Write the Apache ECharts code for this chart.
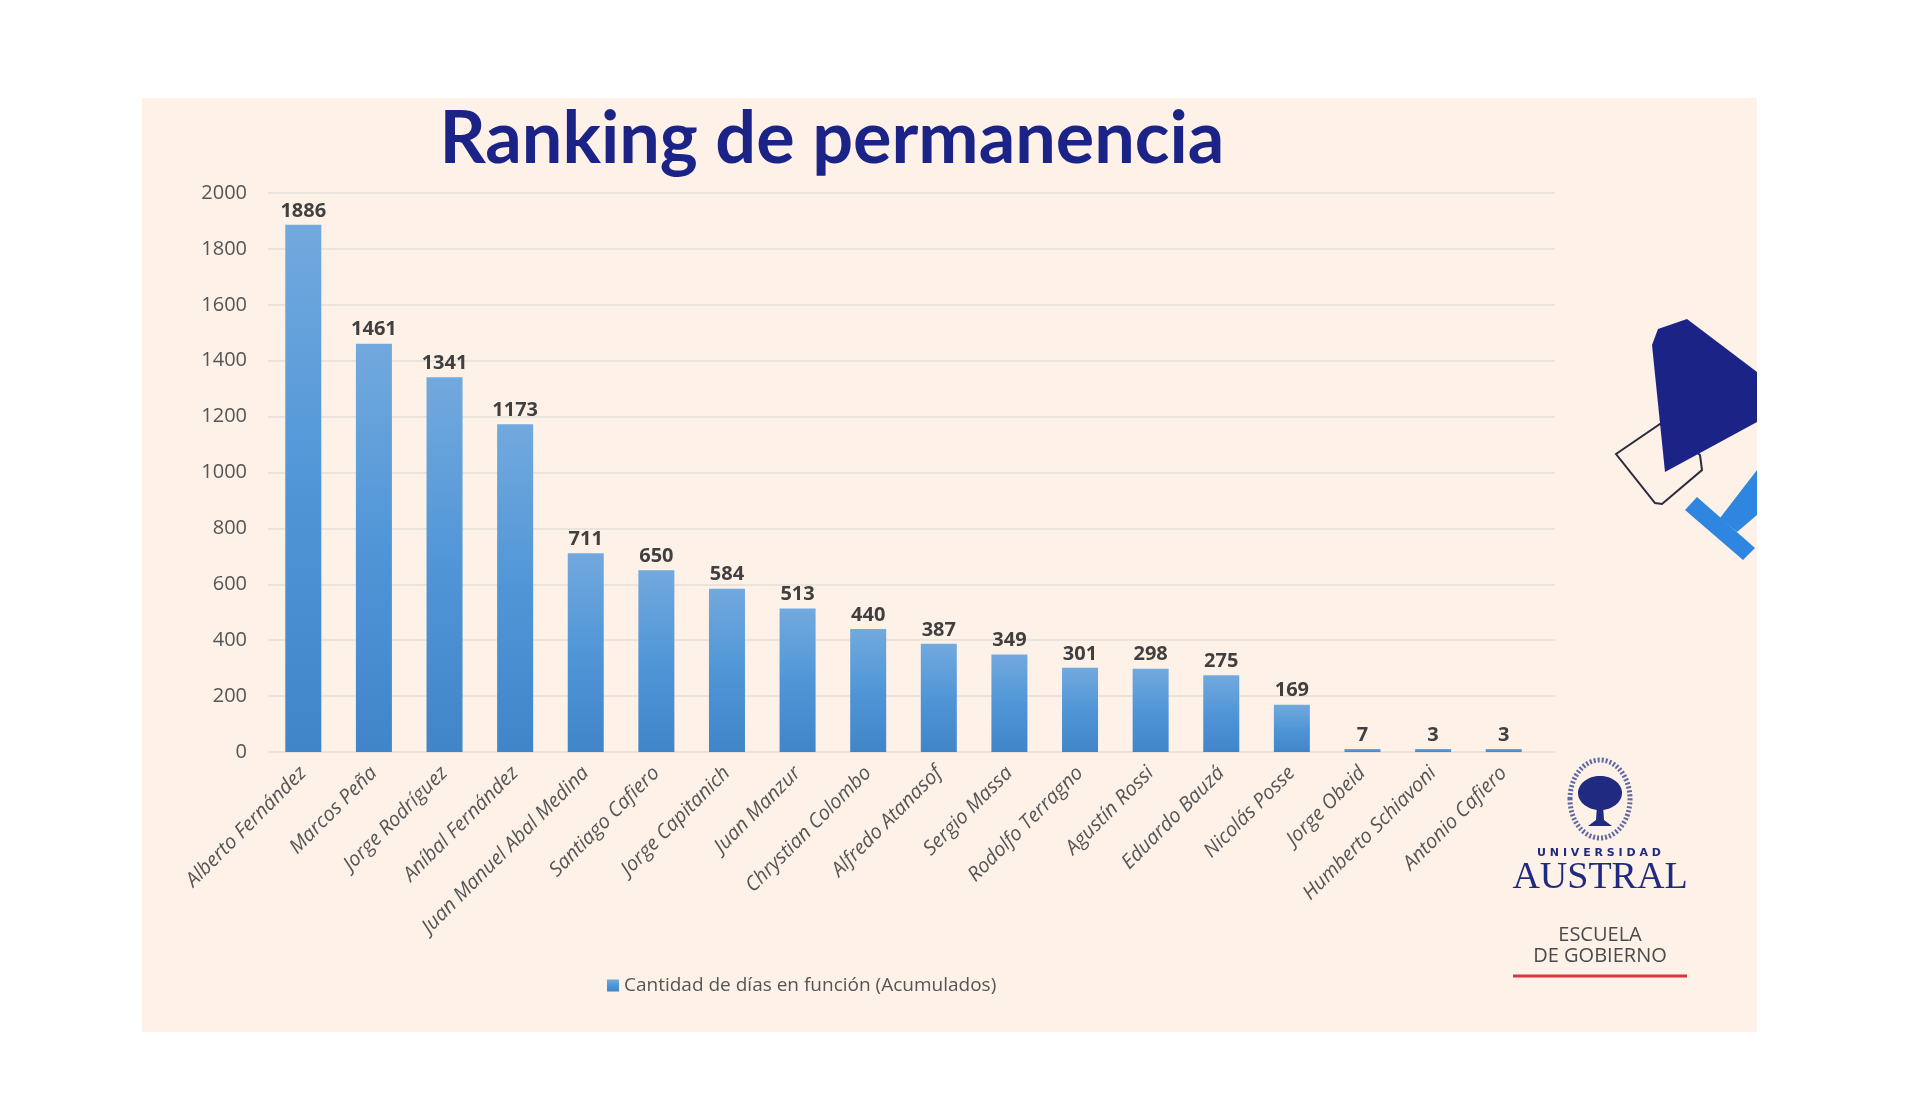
<!DOCTYPE html>
<html>
<head>
<meta charset="utf-8">
<script src="https://cdn.jsdelivr.net/npm/echarts@6/dist/echarts.min.js"></script>
<style>
html,body{margin:0;padding:0;background:#ffffff;}
#chart{width:1920px;height:1111px;}
</style>
</head>
<body>
<div id="chart"></div>
<script>
const titleText = 'Ranking de permanencia';
const seriesName = 'Cantidad de días en función (Acumulados)';
const categories = ['Alberto Fernández','Marcos Peña','Jorge Rodríguez','Aníbal Fernández','Juan Manuel Abal Medina','Santiago Cafiero','Jorge Capitanich','Juan Manzur','Chrystian Colombo','Alfredo Atanasof','Sergio Massa','Rodolfo Terragno','Agustín Rossi','Eduardo Bauzá','Nicolás Posse','Jorge Obeid','Humberto Schiavoni','Antonio Cafiero'];
const values = [1886,1461,1341,1173,711,650,584,513,440,387,349,301,298,275,169,7,3,3];
const yMin = 0, yMax = 2000, yStep = 200;

const chart = echarts.init(document.getElementById('chart'), null, {renderer:'canvas'});
const labelGray = '#555555';
const navy = '#1b2387';
const font = '"Open Sans", sans-serif';

const option = {
  backgroundColor: '#ffffff',
  animation: false,
  graphic: [
    {type:'rect', z:-10, shape:{x:142,y:98,width:1615,height:934}, style:{fill:'#fdf1e8'}},
    {type:'text', z:10, style:{text:titleText, x:832, y:140, textAlign:'center', textVerticalAlign:'middle', font:'bold 72px Lato, "Noto Sans", sans-serif', fill:navy}},
    // decorative shapes on the right
    {type:'polygon', z:5, shape:{points:[[1616,454],[1660,424],[1700,455],[1702,470],[1662,504],[1655,503]]}, style:{fill:'none', stroke:'#2b2b3a', lineWidth:2}},
    {type:'polygon', z:6, shape:{points:[[1652,345],[1658,329],[1687,319],[1757,372],[1757,422],[1665,472]]}, style:{fill:'#1b2387'}},
    {type:'polygon', z:6, shape:{points:[[1685,510],[1697,497],[1755,548],[1743,560]]}, style:{fill:'#2f86e0'}},
    {type:'polygon', z:6, shape:{points:[[1720,518],[1757,470],[1757,515],[1737,532]]}, style:{fill:'#2f86e0'}},
    // logo
    {type:'ellipse', z:5, shape:{cx:1600, cy:799, rx:30, ry:39}, style:{fill:'none', stroke:'#2b3a8c', lineWidth:5, lineDash:[2,2], opacity:0.75}},
    {type:'ellipse', z:6, shape:{cx:1600, cy:793, rx:22, ry:17}, style:{fill:'#1f2a80'}},
    {type:'polygon', z:6, shape:{points:[[1597,805],[1603,805],[1604,820],[1612,826],[1588,826],[1596,820]]}, style:{fill:'#1f2a80'}},
    {type:'text', z:6, style:{text:'U N I V E R S I D A D', x:1599, y:853, textAlign:'center', textVerticalAlign:'middle', font:'bold 11px "DejaVu Sans", sans-serif', fill:'#1f2a80'}},
    {type:'text', z:6, style:{text:'AUSTRAL', x:1600, y:878, textAlign:'center', textVerticalAlign:'middle', font:'38px "Liberation Serif", serif', fill:'#1f2a80'}},
    {type:'text', z:6, style:{text:'ESCUELA', x:1600, y:935, textAlign:'center', textVerticalAlign:'middle', font:'20px "Open Sans", sans-serif', fill:'#4a4a4a'}},
    {type:'text', z:6, style:{text:'DE GOBIERNO', x:1600, y:956, textAlign:'center', textVerticalAlign:'middle', font:'20px "Open Sans", sans-serif', fill:'#4a4a4a'}},
    {type:'line', z:6, shape:{x1:1513, y1:976, x2:1687, y2:976}, style:{stroke:'#d9363e', lineWidth:3}}
  ],
  legend: {
    show: true,
    left: 602, top: 971,
    icon: 'rect', itemWidth: 12, itemHeight: 12, itemGap: 5,
    textStyle: {color: labelGray, fontSize: 19, fontFamily: font},
    data: [seriesName]
  },
  grid: [
    {left: 268, right: 365, top: 193, bottom: 359, containLabel: false},
    {left: 268, right: 381, top: 193, bottom: 359, containLabel: false}
  ],
  xAxis: [
    {type: 'value', gridIndex: 0, show: false, min: 0, max: 1},
    {
      type: 'category', gridIndex: 1,
      data: categories,
      axisLine: {show: false},
      axisTick: {show: false},
      axisLabel: {
        rotate: 45, interval: 0, margin: 18,
        color: labelGray, fontSize: 20, fontStyle: 'italic',
        fontFamily: font
      }
    }
  ],
  yAxis: [
    {
      type: 'value', gridIndex: 0, min: yMin, max: yMax, interval: yStep,
      axisLine: {show: false}, axisTick: {show: false},
      axisLabel: {margin: 21, color: labelGray, fontSize: 20, fontFamily: font, formatter: v => String(v)},
      splitLine: {lineStyle: {color: '#ebe4dd', width: 2}}
    },
    {
      type: 'value', gridIndex: 1, min: yMin, max: yMax, interval: yStep,
      show: false, splitLine: {show: false}
    }
  ],
  series: [{
    name: seriesName,
    type: 'bar',
    xAxisIndex: 1, yAxisIndex: 1,
    data: values,
    barWidth: 36,
    barMinHeight: 3,
    itemStyle: {
      color: new echarts.graphic.LinearGradient(0,0,0,1,[
        {offset:0, color:'#72a9de'},
        {offset:0.5, color:'#5096d7'},
        {offset:1, color:'#3f85c8'}
      ])
    },
    label: {
      show: true, position: 'top', distance: 4,
      color: '#404040', fontSize: 20, fontWeight: 'bold',
      fontFamily: font
    }
  }]
};
chart.setOption(option);
</script>
</body>
</html>
